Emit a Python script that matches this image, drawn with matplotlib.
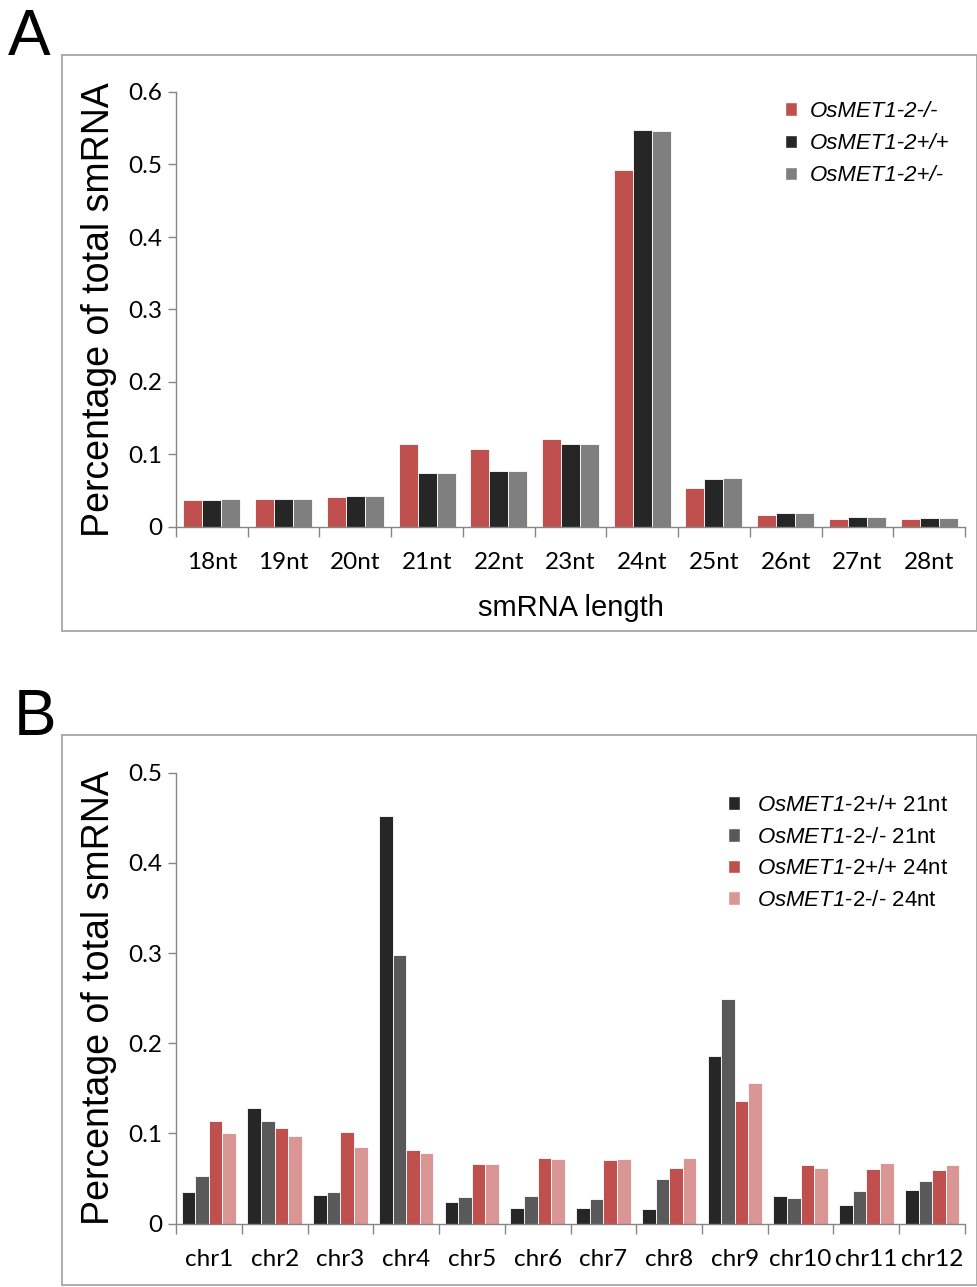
import numpy as np
import matplotlib
matplotlib.use("Agg")
import matplotlib.pyplot as plt
from matplotlib.patches import Rectangle, Patch

# panel A data
lengths = ['18nt', '19nt', '20nt', '21nt', '22nt', '23nt', '24nt', '25nt', '26nt', '27nt', '28nt']
met_mm = [0.037, 0.039, 0.041, 0.115, 0.108, 0.122, 0.492, 0.054, 0.016, 0.0115, 0.0106]
met_pp = [0.037, 0.039, 0.043, 0.075, 0.077, 0.115, 0.548, 0.066, 0.019, 0.014, 0.013]
met_pm = [0.039, 0.039, 0.043, 0.075, 0.077, 0.115, 0.546, 0.068, 0.019, 0.014, 0.013]
labels_a = ['OsMET1-2-/-', 'OsMET1-2+/+', 'OsMET1-2+/-']

# panel B data
chroms = ['chr1', 'chr2', 'chr3', 'chr4', 'chr5', 'chr6', 'chr7', 'chr8', 'chr9', 'chr10', 'chr11', 'chr12']
pp_21 = [0.035, 0.128, 0.032, 0.452, 0.0235, 0.017, 0.017, 0.016, 0.186, 0.031, 0.021, 0.037]
mm_21 = [0.053, 0.114, 0.035, 0.298, 0.029, 0.030, 0.027, 0.049, 0.249, 0.028, 0.036, 0.047]
pp_24 = [0.114, 0.106, 0.102, 0.081, 0.066, 0.073, 0.070, 0.062, 0.136, 0.065, 0.061, 0.059]
mm_24 = [0.100, 0.097, 0.085, 0.078, 0.066, 0.072, 0.071, 0.073, 0.156, 0.062, 0.067, 0.065]
labels_b = [('+/+', '21nt'), ('-/-', '21nt'), ('+/+', '24nt'), ('-/-', '24nt')]

RED = '#C0504D'
BLACK = '#262626'
GREY = '#7F7F7F'
DGREY = '#595959'
PINK = '#D99694'
AXC = '#868686'

# \mathbf is used as an italic face so the digit in the gene name stays slanted
plt.rcParams['mathtext.fontset'] = 'custom'
plt.rcParams['mathtext.bf'] = 'Liberation Sans:italic'
plt.rcParams['mathtext.rm'] = 'Liberation Sans'

W, H = 978, 1287
fig = plt.figure(figsize=(W / 100, H / 100), dpi=100)


def fx(px):
    return px / W


def fy(py):
    return 1 - py / H


def style_axes(ax, cats, ymax, step):
    n = len(cats)
    ax.set_xlim(-0.5, n - 0.5)
    ax.set_ylim(0, ymax)
    for s in ['top', 'right']:
        ax.spines[s].set_visible(False)
    for s in ['left', 'bottom']:
        ax.spines[s].set_color(AXC)
        ax.spines[s].set_linewidth(1.0)
    yt = np.round(np.arange(0, ymax + 1e-9, step), 2)
    ax.set_yticks(yt)
    ax.set_yticklabels(['%g' % v for v in yt])
    ax.set_xticks(np.arange(n))
    ax.set_xticklabels(cats)
    ax.set_xticks(np.arange(n + 1) - 0.5, minor=True)
    ax.tick_params(axis='x', which='major', length=0, pad=18, labelsize=17.5)
    ax.tick_params(axis='x', which='minor', length=7, color=AXC, width=1.0, direction='out')
    ax.tick_params(axis='y', length=6, color=AXC, width=1.0, pad=4, labelsize=17.5)
    for lab in ax.get_xticklabels() + ax.get_yticklabels():
        lab.set_fontfamily('Lato')
    ax.set_ylabel('Percentage of total smRNA', fontsize=27, fontfamily='Liberation Sans', labelpad=8)


# panel boxes
fig.patches.append(Rectangle((fx(62), fy(631)), fx(977) - fx(62), fy(55) - fy(631),
                             transform=fig.transFigure, fill=False, edgecolor='#A6A6A6', lw=1.3))
fig.patches.append(Rectangle((fx(62), fy(1285)), fx(977) - fx(62), fy(735) - fy(1285),
                             transform=fig.transFigure, fill=False, edgecolor='#A6A6A6', lw=1.3))

# panel A
axA = fig.add_axes([fx(176), fy(527), fx(965) - fx(176), fy(92) - fy(527)])
x = np.arange(len(lengths))
bw = 0.265
for i, (vals, col) in enumerate(zip([met_mm, met_pp, met_pm], [RED, BLACK, GREY])):
    axA.bar(x + (i - 1) * bw, vals, width=bw, color=col, edgecolor='white', linewidth=0.6)
style_axes(axA, lengths, 0.6, 0.1)
axA.set_xlabel('smRNA length', fontsize=21, fontfamily='Liberation Sans', labelpad=15)
handles = [Patch(facecolor=c, edgecolor='white') for c in [RED, BLACK, GREY]]
axA.legend(handles, labels_a, loc='upper left', bbox_to_anchor=(fx(765), fy(81)),
           bbox_transform=fig.transFigure, frameon=False, handlelength=0.55, handleheight=0.55,
           handletextpad=0.55, labelspacing=0.5,
           prop={'family': 'Liberation Sans', 'style': 'italic', 'size': 16})

# panel B
axB = fig.add_axes([fx(176), fy(1223.5), fx(965) - fx(176), fy(772.7) - fy(1223.5)])
x = np.arange(len(chroms))
bw = 0.207
for i, (vals, col) in enumerate(zip([pp_21, mm_21, pp_24, mm_24], [BLACK, DGREY, RED, PINK])):
    axB.bar(x + (i - 1.5) * bw, vals, width=bw, color=col, edgecolor='white', linewidth=0.6)
style_axes(axB, chroms, 0.5, 0.1)
handles = [Patch(facecolor=c, edgecolor='white') for c in [BLACK, DGREY, RED, PINK]]
legb = [r'$\mathbf{OsMET1}$-2' + g + ' ' + n for g, n in labels_b]
axB.legend(handles, legb, loc='upper left', bbox_to_anchor=(fx(708), fy(775)),
           bbox_transform=fig.transFigure, frameon=False, handlelength=0.55, handleheight=0.55,
           handletextpad=0.75, labelspacing=0.48,
           prop={'family': 'Liberation Sans', 'size': 16})

fig.text(fx(8), fy(55), 'A', fontsize=46, fontfamily='Liberation Sans', va='baseline')
fig.text(fx(14), fy(735), 'B', fontsize=46, fontfamily='Liberation Sans', va='baseline')

fig.savefig('out.png', dpi=100)
